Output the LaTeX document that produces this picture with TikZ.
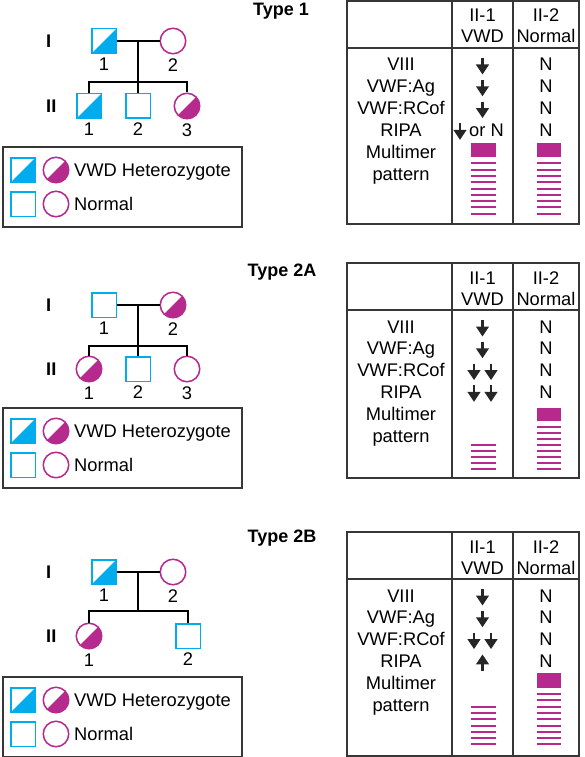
\documentclass[tikz,border=0pt]{standalone}
\usepackage{fontspec}
\setmainfont{Liberation Sans}
\usetikzlibrary{positioning}
\usetikzlibrary{arrows.meta}
\definecolor{pedcyan}{RGB}{0,172,236}
\definecolor{pedmag}{RGB}{182,42,142}
\definecolor{tabline}{RGB}{55,55,55}

\begin{document}
\begin{tikzpicture}
  [x=1pt,y=-1pt,
  every node/.style={font=\fontsize{18.3}{21}\selectfont,inner sep=0pt},
  male/.style={rectangle,draw=pedcyan,line width=1.5pt,minimum size=24.5pt},
  female/.style={circle,draw=pedmag,line width=1.5pt,minimum size=25.5pt},
  hetmale/.style={male,path picture={\fill[pedcyan] (path picture bounding box.south west) -- (path picture bounding box.south east) -- (path picture bounding box.north east) -- cycle;}},
  hetfemale/.style={female,path picture={\fill[pedmag] (path picture bounding box.south west) -- (path picture bounding box.south east) -- (path picture bounding box.north east) -- cycle;}},
  gen/.style={anchor=west,font=\fontsize{18.3}{21}\selectfont\bfseries},
  title/.style={anchor=base,font=\fontsize{18}{21}\selectfont\bfseries},
  num/.style={below=4pt of #1},
  mate/.style={black,line width=1.5pt},
  tab/.style={tabline,line width=1.2pt},
  dnarr/.style={-{Triangle[width=12.5pt,length=10pt]},line width=2.8pt,black!85},
  band/.style={pedmag}]
  \useasboundingbox (0,0) rectangle (584,757);

  % Type 1
  \node[title] (a-title) at (281,16) {Type 1};
  \node[gen] (a-gI) at (46,41) {I};
  \node[gen] (a-gII) at (46,106) {II};
  \node[hetmale] (a-I1) at (104,41) {};
  \node[female] (a-I2) at (173,41) {};
  \node[hetmale] (a-II1) at (89,106) {};
  \node[male] (a-II2) at (138,106) {};
  \node[hetfemale] (a-II3) at (187,106) {};
  \coordinate (a-m) at (138,41);
  \coordinate (a-s) at (138,82);
  \draw[mate] (a-I1) -- (a-I2);
  \draw[mate] (a-m) -- (a-s);
  \draw[mate] (a-II1.north) |- (a-s) -| (a-II3.north);
  \draw[mate] (a-s) -- (a-II2.north);
  \node[num=a-I1] (a-nI1) {1};
  \node[num=a-I2] (a-nI2) {2};
  \node[num=a-II1] (a-nII1) {1};
  \node[num=a-II2] (a-nII2) {2};
  \node[num=a-II3] (a-nII3) {3};

  % Type 2A
  \node[title] (b-title) at (282,276) {Type 2A};
  \node[gen] (b-gI) at (46,305) {I};
  \node[gen] (b-gII) at (46,369) {II};
  \node[male] (b-I1) at (104,305) {};
  \node[hetfemale] (b-I2) at (173,305) {};
  \node[hetfemale] (b-II1) at (89,369) {};
  \node[male] (b-II2) at (138,369) {};
  \node[female] (b-II3) at (187,369) {};
  \coordinate (b-m) at (138,305);
  \coordinate (b-s) at (138,346);
  \draw[mate] (b-I1) -- (b-I2);
  \draw[mate] (b-m) -- (b-s);
  \draw[mate] (b-II1.north) |- (b-s) -| (b-II3.north);
  \draw[mate] (b-s) -- (b-II2.north);
  \node[num=b-I1] (b-nI1) {1};
  \node[num=b-I2] (b-nI2) {2};
  \node[num=b-II1] (b-nII1) {1};
  \node[num=b-II2] (b-nII2) {2};
  \node[num=b-II3] (b-nII3) {3};

  % Type 2B
  \node[title] (c-title) at (282,542) {Type 2B};
  \node[gen] (c-gI) at (46,572) {I};
  \node[gen] (c-gII) at (46,636) {II};
  \node[hetmale] (c-I1) at (104,572) {};
  \node[female] (c-I2) at (173,572) {};
  \node[hetfemale] (c-II1) at (89,636) {};
  \node[male] (c-II2) at (188,636) {};
  \coordinate (c-m) at (138,572);
  \coordinate (c-s) at (138,611);
  \draw[mate] (c-I1) -- (c-I2);
  \draw[mate] (c-m) -- (c-s);
  \draw[mate] (c-II1.north) |- (c-s) -| (c-II2.north);
  \node[num=c-I1] (c-nI1) {1};
  \node[num=c-I2] (c-nI2) {2};
  \node[num=c-II1] (c-nII1) {1};
  \node[num=c-II2] (c-nII2) {2};

  % legends
  \foreach \dy/\pf in {0/a,261/b,530/c} {
    \draw[tab] (3,147+\dy) rectangle (242,227+\dy);
    \node[hetmale] (\pf-k1) at (23,170+\dy) {};
    \node[hetfemale] (\pf-k2) at (56,170+\dy) {};
    \node[male] (\pf-k3) at (23,204+\dy) {};
    \node[female] (\pf-k4) at (56,204+\dy) {};
    \node[anchor=base west] (\pf-k5) at (74,176+\dy) {VWD Heterozygote};
    \node[anchor=base west] (\pf-k6) at (74,210+\dy) {Normal};
  }

  % tables
  \foreach \ty/\by/\pf in {1/224/a,263/478/b,532/756/c} {
    \draw[tab] (347,\ty) rectangle (579,\by);
    \draw[tab] (347,\ty+47) -- (579,\ty+47);
    \draw[tab] (452,\ty) -- (452,\by);
    \draw[tab] (513,\ty) -- (513,\by);
    \node[anchor=base] (\pf-h1) at (482.5,\ty+21) {II-1};
    \node[anchor=base] (\pf-h2) at (482.5,\ty+42) {VWD};
    \node[anchor=base] (\pf-h3) at (546,\ty+21) {II-2};
    \node[anchor=base] (\pf-h4) at (546,\ty+42) {Normal};
    \foreach \lab [count=\i] in {VIII,VWF:Ag,VWF:RCof,RIPA,Multimer,pattern}
      \node[anchor=base] (\pf-r\i) at (401,\ty+70+21.8*\i-21.8) {\lab};
    \foreach \i in {1,...,4}
      \node[anchor=base] (\pf-N\i) at (546,\ty+70+21.8*\i-21.8) {N};
  }

  % Type 1 results
  \draw[dnarr] (482.5,58) -- (482.5,74.5);
  \draw[dnarr] (482.5,79.8) -- (482.5,96.3);
  \draw[dnarr] (482.5,101.6) -- (482.5,118.1);
  \draw[dnarr] (460,123.4) -- (460,139.9);
  \node[anchor=base west] (a-orN) at (469,136.4) {or N};
  \fill[band] (471,143) rectangle (496,157);
  \fill[band] (537,143) rectangle (561,157);
  \foreach \k in {0,...,8} {
    \fill[band] (471,162.3+6.3*\k) rectangle (496,164.3+6.3*\k);
    \fill[band] (537,162.3+6.3*\k) rectangle (561,164.3+6.3*\k);
  }

  % Type 2A results
  \draw[dnarr] (482.5,320) -- (482.5,336.5);
  \draw[dnarr] (482.5,341.8) -- (482.5,358.3);
  \draw[dnarr] (474,363.6) -- (474,380.1);
  \draw[dnarr] (491,363.6) -- (491,380.1);
  \draw[dnarr] (474,385.4) -- (474,401.9);
  \draw[dnarr] (491,385.4) -- (491,401.9);
  \fill[band] (537,408) rectangle (561,421);
  \foreach \k in {0,...,7}
    \fill[band] (537,425.5+6.1*\k) rectangle (561,427.5+6.1*\k);
  \foreach \k in {3,...,7}
    \fill[band] (471,425.5+6.1*\k) rectangle (496,427.5+6.1*\k);

  % Type 2B results
  \draw[dnarr] (482.5,589) -- (482.5,605.5);
  \draw[dnarr] (482.5,610.8) -- (482.5,627.3);
  \draw[dnarr] (474,632.6) -- (474,649.1);
  \draw[dnarr] (491,632.6) -- (491,649.1);
  \draw[dnarr] (482.5,670.9) -- (482.5,654.4);
  \fill[band] (537,673) rectangle (561,688);
  \foreach \k in {0,...,8}
    \fill[band] (537,693+6.3*\k) rectangle (561,695+6.3*\k);
  \foreach \k in {2,...,8}
    \fill[band] (471,693+6.3*\k) rectangle (496,695+6.3*\k);
\end{tikzpicture}
\end{document}
